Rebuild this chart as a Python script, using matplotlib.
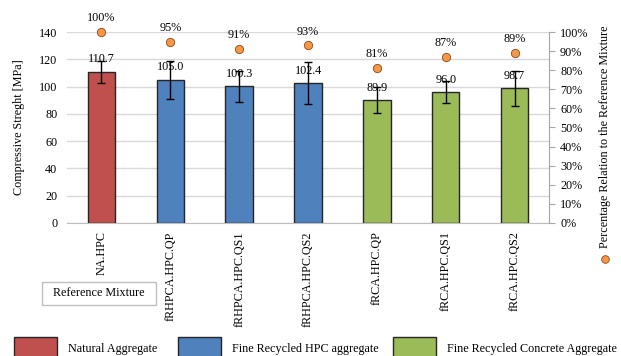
import numpy as np
import matplotlib
matplotlib.use("Agg")
import matplotlib.pyplot as plt
import matplotlib.patches as mpatches
from matplotlib.lines import Line2D

plt.rcParams['font.family'] = ['Liberation Serif', 'DejaVu Serif']
fs = 8.7

# data
mixes = ['NA.HPC', 'fRHPCA.HPC.QP', 'fRHPCA.HPC.QS1', 'fRHPCA.HPC.QS2',
         'fRCA.HPC.QP', 'fRCA.HPC.QS1', 'fRCA.HPC.QS2']
strength = [110.7, 105.0, 100.3, 102.4, 89.9, 96.0, 98.7]
err = [7.8, 13.8, 11.3, 15.3, 9.6, 8.3, 12.6]
relation = [1.00, 0.95, 0.91, 0.93, 0.81, 0.87, 0.89]
groups = ['Natural Aggregate', 'Fine Recycled HPC aggregate', 'Fine Recycled Concrete Aggregate']
group_of = [0, 1, 1, 1, 2, 2, 2]

colors = ['#C0504D', '#4F81BD', '#9BBB59']
edge = '#262626'

fig = plt.figure(figsize=(6.21, 3.56), dpi=100)
ax = fig.add_axes([0.108, 0.374, 0.776, 0.536])
ax2 = ax.twinx()

x = np.arange(len(mixes))
ax.bar(x, strength, width=0.4, color=[colors[g] for g in group_of],
       edgecolor=edge, linewidth=1.0, zorder=3)
ax.errorbar(x, strength, yerr=err, fmt='none', ecolor='black', elinewidth=1.0,
            capsize=3, capthick=1.0, zorder=4)
for xi, v in zip(x, strength):
    ax.annotate(f'{v:.1f}', (xi, v), xytext=(0, 9), textcoords='offset points',
                ha='center', va='center', fontsize=fs, zorder=5)

ax.set_xlim(-0.5, len(mixes) - 0.5)
ax.set_ylim(0, 140)
ax.set_yticks(np.arange(0, 141, 20))
ax.grid(axis='y', color='#d9d9d9', linewidth=1.0, zorder=0)
ax.set_axisbelow(True)
for s in ['top', 'left', 'right']:
    ax.spines[s].set_visible(False)
ax.spines['bottom'].set_color('#bfbfbf')
ax.tick_params(axis='y', length=0, labelsize=fs, pad=7)
ax.tick_params(axis='x', length=0, labelsize=fs, pad=6)
ax.set_xticks(x)
ax.set_xticklabels(mixes, rotation=90)
ax.set_ylabel('Compressive Streght [MPa]', fontsize=fs)
ax.yaxis.set_label_coords(-0.088, 0.5)

ax2.scatter(x, relation, s=36, color='#F79646', edgecolor='#8a4a1a', linewidth=0.6,
            zorder=6, clip_on=False)
for xi, r in zip(x, relation):
    ax2.annotate(f'{r:.0%}', (xi, r), xytext=(0, 10), textcoords='offset points',
                 ha='center', va='center', fontsize=fs)
ax2.set_ylim(0, 1)
ax2.set_yticks(np.arange(0, 1.01, 0.1))
ax2.set_yticklabels([f'{int(round(t * 100))}%' for t in np.arange(0, 1.01, 0.1)])
for s in ['top', 'left', 'bottom']:
    ax2.spines[s].set_visible(False)
ax2.spines['right'].set_color('#a6a6a6')
ax2.tick_params(axis='y', length=4, color='#a6a6a6', labelsize=fs, pad=4)

# vertical legend for the percentage series
fig.text(0.974, 0.615, 'Percentage Relation to the Reference Mixture', rotation=90,
         ha='center', va='center', fontsize=fs)
fig.add_artist(Line2D([0.974], [0.272], marker='o', markersize=5.5, color='#F79646',
                      markeredgecolor='#8a4a1a', markeredgewidth=0.6,
                      transform=fig.transFigure))

# reference mixture box
fig.add_artist(mpatches.Rectangle((0.068, 0.143), 0.183, 0.065, transform=fig.transFigure,
                                  facecolor='white', edgecolor='#bfbfbf', linewidth=1.0))
fig.text(0.159, 0.176, 'Reference Mixture', ha='center', va='center', fontsize=fs)

# bottom legend
px = [0.023, 0.287, 0.633]
for g, lab in enumerate(groups):
    fig.add_artist(mpatches.Rectangle((px[g], -0.03), 0.069, 0.083, transform=fig.transFigure,
                                      facecolor=colors[g], edgecolor=edge, linewidth=1.0))
    fig.text(px[g] + 0.087, 0.02, lab, ha='left', va='center', fontsize=fs)

fig.savefig('out.png', dpi=100)
